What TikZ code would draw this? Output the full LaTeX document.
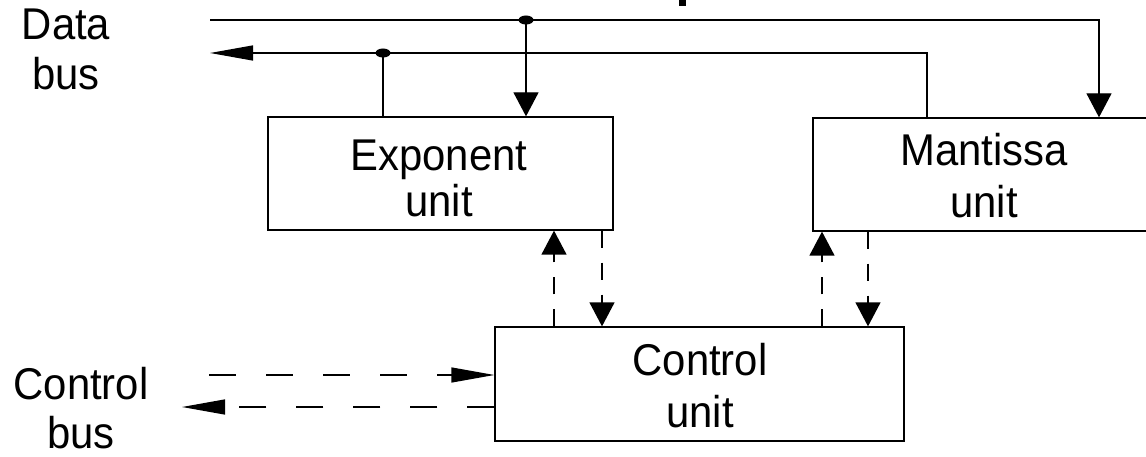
\documentclass[tikz,border=0pt]{standalone}
\usepackage{fontspec}
\setmainfont{Liberation Sans}
\newfontfamily\tallfont[FakeStretch=0.94]{Liberation Sans}
\usetikzlibrary{arrows.meta}
\tikzset{
  vtip/.tip={Triangle[length=24pt,width=25pt]},
  htip/.tip={Triangle[length=43pt,width=15pt]},
  unitbox/.style={draw, rectangle, inner sep=0pt},
  lbl/.style={align=center, inner sep=0pt},
  vdash/.style={dash pattern=on 17pt off 15pt},
  hdash/.style={dash pattern=on 27pt off 30pt},
}
\begin{document}
\begin{tikzpicture}[x=1pt,y=-1pt,line width=1.3pt]
\useasboundingbox (0,0) rectangle (1146,457);
% boxes
\node[unitbox, minimum width=345pt, minimum height=113pt] (exp) at (440.5,173.5) {};
\node[unitbox, minimum width=342pt, minimum height=113pt] (mant) at (984,174.5) {};
\node[unitbox, minimum width=409pt, minimum height=114pt] (ctl) at (699.5,384) {};
% box texts
\node[lbl, font=\tallfont\fontsize{44.5}{46}\selectfont] (exptext) at (439,178) {Exponent\\unit};
\node[lbl, font=\tallfont\fontsize{44.5}{52}\selectfont] (manttext) at (984,176) {Mantissa\\unit};
\node[lbl, font=\tallfont\fontsize{44.5}{52}\selectfont] (ctltext) at (700,386) {Control\\unit};
% labels
\node[lbl, font=\tallfont\fontsize{44.5}{50}\selectfont] (dbus) at (66,49) {Data\\bus};
\node[lbl, font=\tallfont\fontsize{44.5}{49}\selectfont] (cbus) at (81,408) {Control\\bus};
% coordinates
\coordinate (dbin) at (210,20);
\coordinate (dbout) at (210,53);
\coordinate (j1) at (526,20);
\coordinate (j2) at (383,53);
\coordinate (mx1) at (1099,0);
\coordinate (mx2) at (927,0);
\coordinate (e1) at (554,0);
\coordinate (e2) at (602,0);
\coordinate (m1) at (822,0);
\coordinate (m2) at (868,0);
\coordinate (cin) at (209,375);
\coordinate (cout) at (182,407);
% data bus
\draw[-vtip] (dbin) -| (mant.north -| mx1);
\draw[htip-] (dbout) -| (mant.north -| mx2);
\draw[-vtip] (j1) -- (exp.north -| j1);
\draw (j2) -- (exp.north -| j2);
\fill (j1) ellipse [x radius=7.5pt, y radius=4.5pt];
\fill (j2) ellipse [x radius=7.5pt, y radius=4.5pt];
% control links
\draw[vdash,-vtip] (ctl.north -| e1) -- (exp.south -| e1);
\draw[vdash,-vtip] (exp.south -| e2) -- (ctl.north -| e2);
\draw[vdash,-vtip] (ctl.north -| m1) -- (mant.south -| m1);
\draw[vdash,-vtip] (mant.south -| m2) -- (ctl.north -| m2);
% control bus
\draw[hdash,-htip] (cin) -- (ctl.west |- cin);
\draw[hdash,-htip] (ctl.west |- cout) -- (cout);
% cut-off glyph fragment at top
\fill (679,0) rectangle (686,6);
\end{tikzpicture}
\end{document}
